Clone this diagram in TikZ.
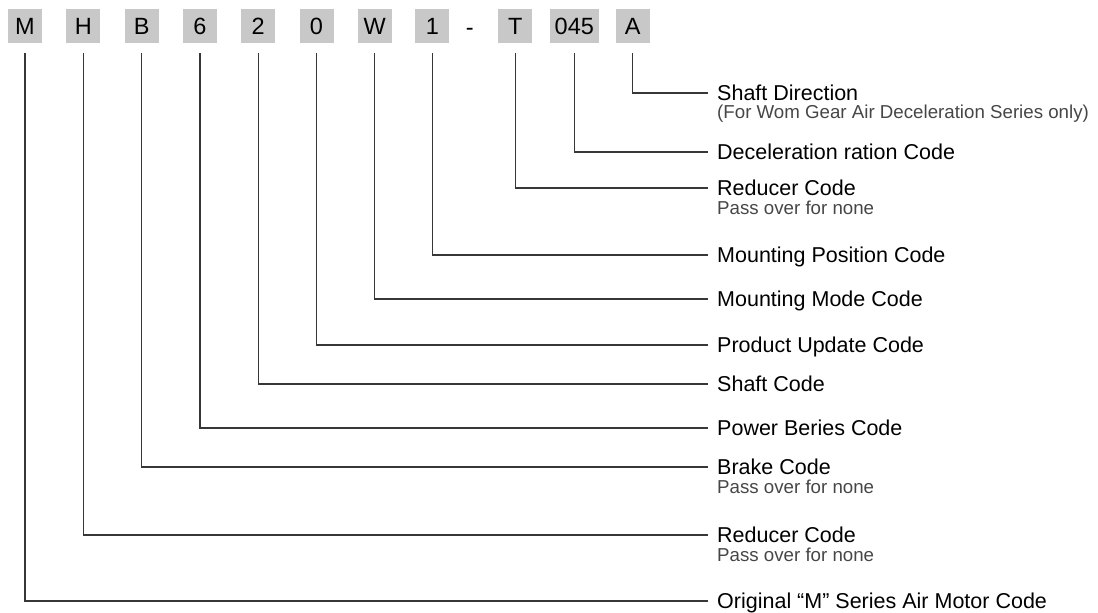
\documentclass[tikz,border=0pt]{standalone}
\usepackage{fontspec}
\setmainfont{Liberation Sans}
\usetikzlibrary{positioning}
\definecolor{codegray}{RGB}{200,200,200}
\definecolor{linegray}{RGB}{55,55,55}
\definecolor{notegray}{RGB}{70,70,70}

\begin{document}
\begin{tikzpicture}[x=1pt,y=-1pt,node distance=58.3pt,
                    code/.style={fill=codegray,minimum width=34pt,minimum height=34pt,
                                 inner sep=0pt,font=\fontsize{23.5}{26}\selectfont},
                    desc/.style={anchor=west,inner xsep=9pt,inner ysep=0pt,
                                 text height=15.5pt,text depth=0pt,
                                 font=\fontsize{21.5}{24}\selectfont},
                    descnote/.style={anchor=west,inner xsep=9pt,inner ysep=0pt,
                                 text=notegray,font=\fontsize{18.7}{22}\selectfont},
                    conn/.style={draw=linegray,line width=1.2pt,shorten <=10pt}]

  \useasboundingbox (0,0) rectangle (1098,613);

  % code letters
  \node[code]                    (M)                                       at (25,26) {M};
  \node[code]                    (H)     [right of=M]                      {H};
  \node[code]                    (B)     [right of=H]                      {B};
  \node[code]                    (six)   [right of=B]                      {6};
  \node[code]                    (two)   [right of=six]                    {2};
  \node[code]                    (zero)  [right of=two]                    {0};
  \node[code]                    (W)     [right of=zero]                   {W};
  \node[code]                    (one)   [right of=W,node distance=57.5pt]  {1};
  \node[font=\fontsize{23.5}{26}\selectfont,yshift=-6pt]
                                 (dash)  [right of=one,node distance=37.5pt] {-};
  \node[code]                    (T)     [right of=one,node distance=83pt]  {T};
  \node[code,minimum width=49pt] (ratio) [right of=T,node distance=59pt]    {045};
  \node[code]                    (A)     [right of=ratio]                  {A};

  % descriptions
  \node[desc]     (lA)    at (708,93)  {Shaft Direction};
  \node[descnote] (sA)    at ([yshift=-21pt]lA.west) {(For Wom Gear Air Deceleration Series only)};
  \node[desc]     (lRatio) at (708,152) {Deceleration ration Code};
  \node[desc]     (lT)    at (708,188) {Reducer Code};
  \node[descnote] (sT)    at ([yshift=-19.5pt]lT.west) {Pass over for none};
  \node[desc]     (lOne)  at (708,255) {Mounting Position Code};
  \node[desc]     (lW)    at (708,299) {Mounting Mode Code};
  \node[desc]     (lZero) at (708,345) {Product Update Code};
  \node[desc]     (lTwo)  at (708,384) {Shaft Code};
  \node[desc]     (lSix)  at (708,428) {Power Beries Code};
  \node[desc]     (lB)    at (708,467) {Brake Code};
  \node[descnote] (sB)    at ([yshift=-19.5pt]lB.west) {Pass over for none};
  \node[desc]     (lH)    at (708,535) {Reducer Code};
  \node[descnote] (sH)    at ([yshift=-19.5pt]lH.west) {Pass over for none};
  \node[desc]     (lM)    at (708,601) {Original “M” Series Air Motor Code};

  % connectors
  \draw[conn] (A.south)     |- (lA.west);
  \draw[conn] (ratio.south) |- (lRatio.west);
  \draw[conn] (T.south)     |- (lT.west);
  \draw[conn] (one.south)   |- (lOne.west);
  \draw[conn] (W.south)     |- (lW.west);
  \draw[conn] (zero.south)  |- (lZero.west);
  \draw[conn] (two.south)   |- (lTwo.west);
  \draw[conn] (six.south)   |- (lSix.west);
  \draw[conn] (B.south)     |- (lB.west);
  \draw[conn] (H.south)     |- (lH.west);
  \draw[conn] (M.south)     |- (lM.west);
\end{tikzpicture}
\end{document}
